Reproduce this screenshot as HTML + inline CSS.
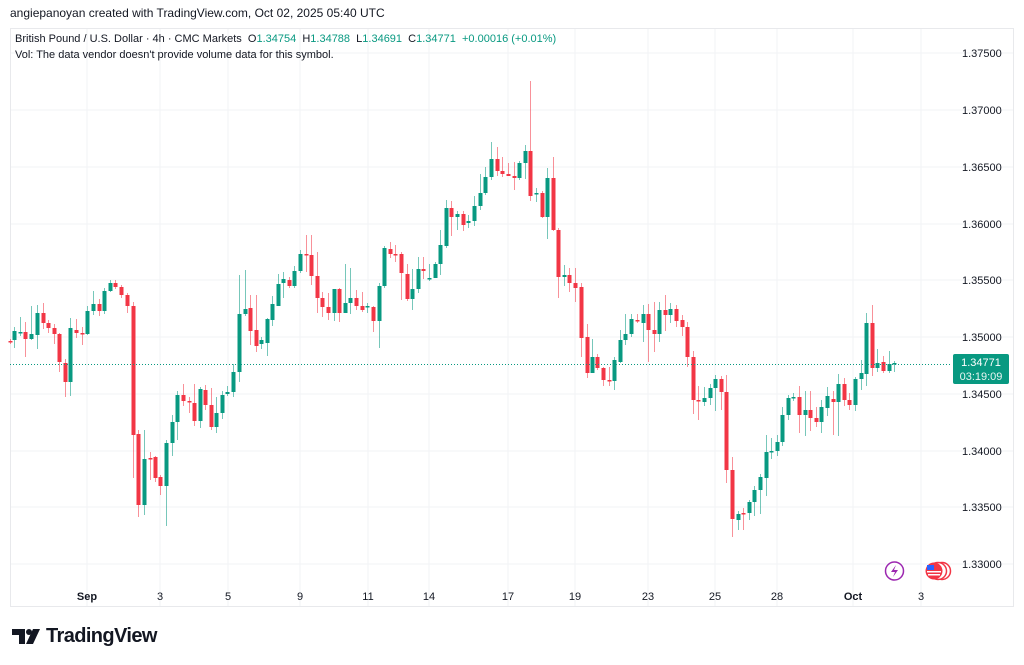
<!DOCTYPE html>
<html><head><meta charset="utf-8">
<style>
html,body{margin:0;padding:0;background:#fff;}
body{width:1024px;height:665px;overflow:hidden;position:relative;font-family:"Liberation Sans",sans-serif;}
.t{position:absolute;white-space:nowrap;}
</style></head><body>
<div class="t" style="left:10px;top:6px;font-size:12px;color:#131722;">angiepanoyan created with TradingView.com, Oct 02, 2025 05:40 UTC</div>
<svg id="c" width="1024" height="665" style="position:absolute;left:0;top:0;"></svg>
<div class="t" style="left:15px;top:33px;font-size:11px;color:#131722;">British Pound / U.S. Dollar · 4h · CMC Markets &nbsp;O<span style="color:#089981">1.34754</span> &nbsp;H<span style="color:#089981">1.34788</span> &nbsp;L<span style="color:#089981">1.34691</span> &nbsp;C<span style="color:#089981">1.34771</span> &nbsp;<span style="color:#089981">+0.00016 (+0.01%)</span></div>
<div class="t" style="left:15px;top:49px;font-size:11px;color:#131722;">Vol: The data vendor doesn't provide volume data for this symbol.</div>
<div class="t" style="left:46px;top:625px;font-size:20px;font-weight:bold;color:#131722;letter-spacing:-0.6px;">TradingView</div>
<script>
var s='';
var hy=[53,110,167,224,280,337,394,451,507,564];
var hl=['1.37500','1.37000','1.36500','1.36000','1.35500','1.35000','1.34500','1.34000','1.33500','1.33000'];
for(var i=0;i<hy.length;i++){s+='<line x1="10" x2="1013" y1="'+hy[i]+'" y2="'+hy[i]+'" stroke="#f2f3f5" stroke-width="1"/>';
 s+='<text x="962" y="'+(hy[i]+4)+'" font-size="11" fill="#131722" font-family="Liberation Sans">'+hl[i]+'</text>';}
var vx=[87,160,228,300,368,429,508,575,648,715,777,853,921];
var vl=['Sep','3','5','9','11','14','17','19','23','25','28','Oct','3'];
for(var i=0;i<vx.length;i++){s+='<line x1="'+vx[i]+'" x2="'+vx[i]+'" y1="28" y2="606" stroke="#f2f3f5" stroke-width="1"/>';
 var b=(vl[i]=='Sep'||vl[i]=='Oct');
 s+='<text x="'+vx[i]+'" y="600" text-anchor="middle" font-size="11" fill="#131722" font-family="Liberation Sans"'+(b?' font-weight="bold"':'')+'>'+vl[i]+'</text>';}
s+='<rect x="10.5" y="28.5" width="1003" height="578" fill="none" stroke="#e8e9ec"/>';
var d=[[10,341,342],[14,340,331,327,348],[20,332,332,317,336],[25,332,339,322,357],[31,339,334,306,340],[37,335,313,305,349],[43,313,323,303,329],[48,323,328,320,333],[54,328,334,324,344],[59,334,362,333,372],[65,363,382,359,397],[70,382,328,318,396],[76,330,333,319,338],[82,333,333,327,345],[87,334,311,306,335],[93,311,304,291,315],[99,304,311,299,316],[104,311,291,288,314],[110,291,283,280,292],[115,283,287,280,289],[121,287,295,285,298],[127,295,306,293,313],[133,306,435,302,478],[138,434,505,430,517],[144,505,459,430,515],[150,458,458,452,480],[155,457,478,456,482],[160,477,486,475,495],[166,486,443,440,526],[172,443,422,415,456],[177,422,395,391,440],[183,395,401,384,406],[189,401,402,397,413],[194,403,421,384,426],[200,421,389,387,428],[205,390,405,385,410],[211,405,427,388,430],[216,427,413,397,433],[222,413,395,391,419],[227,394,392,386,396],[233,392,372,364,397],[239,372,314,275,382],[245,314,309,270,316],[250,308,331,295,345],[256,330,346,295,352],[261,344,340,337,349],[267,343,319,318,356],[272,320,304,296,326],[278,306,284,274,306],[283,283,279,272,298],[289,280,286,277,288],[294,286,271,266,288],[300,271,254,250,273],[306,254,254,235,272],[311,255,276,235,285],[317,276,298,252,313],[322,298,307,292,317],[328,307,313,293,320],[334,313,289,289,321],[339,289,313,288,322],[345,313,303,264,311],[350,303,298,268,314],[356,298,306,290,310],[362,306,310,292,312],[367,306,306,303,313],[373,307,321,306,332],[379,321,286,283,348],[384,286,248,246,288],[390,249,254,242,258],[395,254,254,245,262],[401,254,273,252,300],[407,274,299,264,301],[412,299,289,269,310],[418,289,269,257,293],[423,269,271,257,279],[429,279,278,264,281],[435,278,264,262,277],[440,264,245,230,275],[446,246,208,200,248],[451,208,217,201,236],[457,217,214,211,230],[463,214,225,211,231],[468,223,221,215,228],[474,221,206,196,226],[480,206,193,174,210],[485,193,177,167,195],[491,177,159,142,180],[497,159,171,147,176],[502,171,174,157,177],[508,174,176,163,176],[514,176,178,162,190],[519,178,163,161,180],[525,163,151,145,179],[530,151,196,81,201],[536,193,193,188,202],[542,193,217,191,218],[547,217,178,168,239],[553,178,230,157,231],[558,230,277,228,298],[564,277,275,265,286],[569,275,283,268,292],[575,283,288,268,302],[581,287,338,283,357],[587,337,373,324,378],[592,373,357,339,373],[597,357,368,354,370],[603,368,380,367,386],[609,380,380,367,386],[614,381,360,357,390],[620,362,340,330,363],[625,340,334,314,345],[631,334,319,314,337],[637,320,321,314,323],[643,323,314,305,342],[648,314,330,304,362],[654,330,334,302,352],[659,334,310,302,342],[665,310,315,295,331],[670,315,309,303,323],[676,309,321,305,327],[682,320,327,315,336],[687,327,357,322,367],[693,357,400,351,414],[698,400,401,386,420],[704,402,398,387,406],[710,398,388,384,405],[715,388,379,375,411],[721,379,392,376,410],[726,392,470,375,483],[732,470,519,457,537],[738,520,514,511,530],[743,513,513,508,530],[749,513,502,500,520],[754,502,490,486,516],[760,490,477,474,514],[766,478,452,435,496],[771,451,451,438,459],[777,451,442,435,456],[782,442,415,407,446],[788,415,398,395,420],[793,398,397,393,401],[799,397,415,386,433],[805,415,410,391,436],[810,410,418,391,431],[816,418,422,407,427],[821,422,407,400,433],[827,408,396,387,416],[833,399,402,391,435],[838,402,384,374,436],[844,384,400,378,406],[849,400,405,393,410],[855,405,379,377,411],[861,379,373,360,390],[866,374,323,313,386],[872,323,368,305,376],[877,368,363,349,372],[883,362,371,356,373],[889,371,364,351,373],[894,364,363,361,372]];
for(var i=0;i<d.length;i++){var c=d[i],x=c[0],o=c[1],cl=c[2],h=c.length>3?c[3]:Math.min(o,cl)-2,l=c.length>4?c[4]:Math.max(o,cl)+2;
 var up=cl<o||(cl==o&&i%2==0);var col=up?'#089981':'#F23645';
 s+='<line x1="'+(x+.5)+'" x2="'+(x+.5)+'" y1="'+h+'" y2="'+l+'" stroke="'+col+'" stroke-opacity="0.55" stroke-width="1"/>';
 var t=Math.min(o,cl),bh=Math.max(Math.abs(o-cl),1.5);
 s+='<rect x="'+(x-1.5)+'" y="'+t+'" width="4" height="'+bh+'" fill="'+col+'"/>';}
s+='<line x1="10" x2="950" y1="364.5" y2="364.5" stroke="#089981" stroke-width="1" stroke-dasharray="1,2"/>';
s+='<rect x="953" y="354" width="56" height="30" rx="2" fill="#089981"/>';
s+='<text x="981" y="366" text-anchor="middle" font-size="11" fill="#fff" font-family="Liberation Sans">1.34771</text>';
s+='<text x="981" y="380" text-anchor="middle" font-size="11" fill="#e8f5f2" font-family="Liberation Sans">03:19:09</text>';
s+='<circle cx="894.5" cy="571" r="9" fill="#fff" stroke="#9c27b0" stroke-width="1.5"/>';
s+='<path d="M896 565 L891 572 L895 572 L893 577 L898 570 L894 570 Z" fill="#9c27b0"/>';
s+='<circle cx="942" cy="571" r="8.5" fill="#fff" stroke="#F23645" stroke-width="1.5"/>';
s+='<circle cx="938" cy="571" r="8.5" fill="#fff" stroke="#F23645" stroke-width="1.5"/>';
s+='<circle cx="934" cy="571" r="8.5" fill="#F23645"/>';
s+='<rect x="927" y="565" width="7" height="5" fill="#2962ff"/>';
s+='<rect x="927" y="571" width="14" height="1.5" fill="#fff"/><rect x="928" y="574" width="12" height="1.5" fill="#fff"/>';
s+='<path d="M12 629 H25 V644 H19 V635 H12 Z" fill="#131722"/>';
s+='<circle cx="29" cy="632" r="3" fill="#131722"/>';
s+='<path d="M33 629 H40 L33 644 H26 Z" fill="#131722"/>';
document.getElementById('c').innerHTML=s;
</script>
</body></html>
